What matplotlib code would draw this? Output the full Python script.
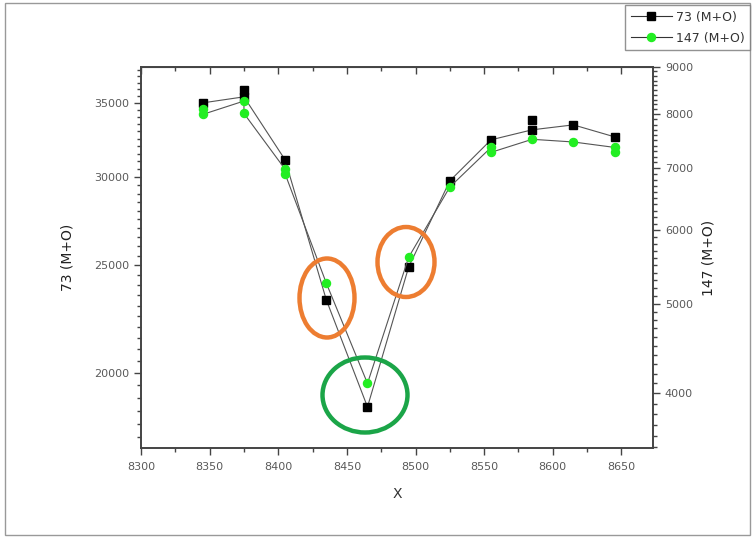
import matplotlib
matplotlib.use("Agg")
import matplotlib.pyplot as plt
from matplotlib.ticker import MultipleLocator, FuncFormatter, NullFormatter
from matplotlib.patches import Ellipse, Rectangle
from matplotlib.lines import Line2D

# ---------------- data ----------------
x73 = [8345, 8375, 8405, 8435, 8465, 8495, 8525, 8555, 8585, 8615, 8645]
y73 = [35000, 35440, 31100, 23270, 18640, 24910, 29780, 32420, 33100, 33440, 32620]
x73_extra = [8375, 8585]
y73_extra = [35950, 33790]

x147 = [8345, 8345, 8375, 8375, 8405, 8405, 8435, 8465, 8495, 8525, 8555, 8555, 8585, 8615, 8645, 8645]
y147 = [8100, 8000, 8270, 8020, 6980, 6900, 5260, 4100, 5610, 6680, 7370, 7280, 7520, 7470, 7370, 7280]

label73 = "73 (M+O)"
label147 = "147 (M+O)"
xlabel = "X"

W, H = 754, 538
fig = plt.figure(figsize=(W / 100, H / 100), dpi=100)

L, R, T, B = 141, 653, 67, 448
ax = fig.add_axes([L / W, 1 - B / H, (R - L) / W, (B - T) / H])
ax2 = ax.twinx()

tick_col = "#5a5a5a"
spine_col = "#444444"

ax.set_xlim(8300, 8673)
ax.set_yscale("log")
ax.set_ylim(17120, 37700)
ax2.set_yscale("log")
ax2.set_ylim(3492, 9000)

line_col = "#555555"
ax.plot(x73, y73, color=line_col, lw=0.8, marker="s", ms=5.6,
        mfc="black", mec="black", zorder=3)
ax.plot(x73_extra, y73_extra, ls="none", marker="s", ms=5.6,
        mfc="black", mec="black", zorder=3)
ax2.plot(x147, y147, color=line_col, lw=0.8, marker="o", ms=5.8,
         mfc="#22EE22", mec="#22EE22", zorder=3)

fmt = FuncFormatter(lambda v, p: f"{int(round(v))}")
ax.yaxis.set_major_locator(MultipleLocator(5000))
ax.yaxis.set_minor_locator(MultipleLocator(500))
ax.yaxis.set_major_formatter(fmt)
ax.yaxis.set_minor_formatter(NullFormatter())
ax2.yaxis.set_major_locator(MultipleLocator(1000))
ax2.yaxis.set_minor_locator(MultipleLocator(100))
ax2.yaxis.set_major_formatter(fmt)
ax2.yaxis.set_minor_formatter(NullFormatter())
ax.xaxis.set_major_locator(MultipleLocator(50))
ax.xaxis.set_minor_locator(MultipleLocator(25))
ax.xaxis.set_major_formatter(fmt)

for a in (ax, ax2):
    for s in a.spines.values():
        s.set_color(spine_col)
        s.set_linewidth(1.2)

ax.tick_params(axis="both", which="major", direction="out", length=5, width=1,
               color=spine_col, labelcolor=tick_col, labelsize=8)
ax.tick_params(axis="both", which="minor", direction="out", length=3, width=1,
               color=spine_col)
ax.tick_params(axis="x", which="major", pad=5)
ax2.tick_params(axis="y", which="major", direction="out", length=5, width=1,
                color=spine_col, labelcolor=tick_col, labelsize=8)
ax2.tick_params(axis="y", which="minor", direction="out", length=3, width=1,
                color=spine_col)

top = ax.secondary_xaxis("top")
top.xaxis.set_major_locator(MultipleLocator(50))
top.xaxis.set_minor_locator(MultipleLocator(25))
top.tick_params(which="major", direction="in", length=5, width=1, color=spine_col,
                labeltop=False)
top.tick_params(which="minor", direction="in", length=3, width=1, color=spine_col)
top.spines["top"].set_color(spine_col)

ax.set_ylabel(label73, fontsize=10, color="#222222", labelpad=14)
ax2.set_ylabel(label147, fontsize=10, color="#222222", rotation=90, labelpad=6)
ax.set_xlabel(xlabel, fontsize=10, color="#333333", labelpad=11)

# annotation ellipses (pixel positions)
def px_ellipse(cx, cy, w, h, color):
    e = Ellipse((cx / W, 1 - cy / H), w / W, h / H, transform=fig.transFigure,
                fill=False, ec=color, lw=3.2, zorder=10)
    fig.add_artist(e)

px_ellipse(327, 298, 55, 79, "#ED7D31")
px_ellipse(406, 262, 57, 70, "#ED7D31")
px_ellipse(365, 395, 85, 75, "#1BA548")

# figure border
fig.add_artist(Rectangle((5 / W, 1 - 535 / H), 745 / W, 532 / H,
                         transform=fig.transFigure, fill=False,
                         ec="#999999", lw=1.0, zorder=0))

handles = [
    Line2D([], [], color="#333333", lw=0.8, marker="s", ms=5.6, mfc="black", mec="black"),
    Line2D([], [], color="#333333", lw=0.8, marker="o", ms=5.8, mfc="#22EE22", mec="#22EE22"),
]
leg = fig.legend(handles, [label73, label147], loc="upper right",
                 bbox_to_anchor=(750 / W, 1 - 5 / H), fontsize=9,
                 frameon=True, fancybox=False, borderpad=0.45, borderaxespad=0,
                 handlelength=3.3, handletextpad=0.3, labelspacing=0.65)
leg.get_frame().set_edgecolor("#777777")
leg.get_frame().set_linewidth(1.0)
for t in leg.get_texts():
    t.set_color("#333333")

fig.savefig("out.png", dpi=100)
